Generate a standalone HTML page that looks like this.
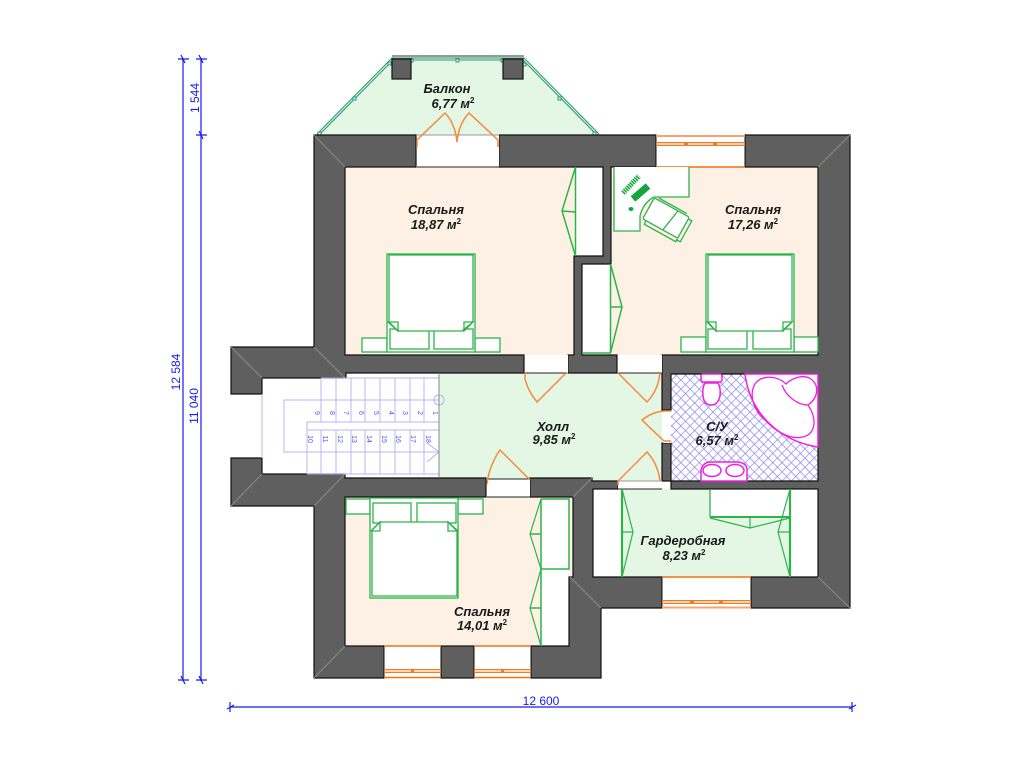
<!DOCTYPE html>
<html>
<head>
<meta charset="utf-8">
<style>
html,body{margin:0;padding:0;background:#fff;width:1024px;height:768px;overflow:hidden}
svg{display:block}
.r{font:italic bold 13px "Liberation Sans",sans-serif;fill:#1a1a1a;text-anchor:middle}
.s{font:bold 8px "Liberation Sans",sans-serif}
.d{font:12px "Liberation Sans",sans-serif;fill:#1a1aee;text-anchor:middle}
.n{font:7px "Liberation Sans",sans-serif;fill:#5555ee;text-anchor:middle}
.g{fill:none;stroke:#2db34a;stroke-width:1.3}
.w{fill:#fff;stroke:#2db34a;stroke-width:1.3}
.o{fill:none;stroke:#f58a3c;stroke-width:1.5}
.m{fill:#fff;stroke:#f01fe0;stroke-width:1.5}
.l{stroke:#b5b5f5;stroke-width:1;fill:none}
.t{stroke:#2a9a78;stroke-width:1.1;fill:none}
</style>
</head>
<body>
<svg width="1024" height="768" viewBox="0 0 1024 768" xmlns="http://www.w3.org/2000/svg">
<defs>
<pattern id="h" width="6.500" height="6.500" patternUnits="userSpaceOnUse" patternTransform="rotate(45 671 373)">
<rect width="6.500" height="6.500" fill="#fff"/>
<path d="M0 0H6.500M0 0V6.500" stroke="#8a8af2" stroke-width="1.400"/>
</pattern>
</defs>

<!-- room floors -->
<polygon points="316,135 392,57 524,57 600,135" fill="#e4f6e4"/>
<rect x="345" y="167" width="230" height="188" fill="#fdf1e5"/>
<rect x="611" y="167" width="207" height="188" fill="#fdf1e5"/>
<rect x="345" y="497" width="228" height="149" fill="#fdf1e5"/>
<rect x="439" y="373" width="223" height="108" fill="#e4f6e4"/>
<rect x="593" y="489" width="225" height="88" fill="#e4f6e4"/>
<rect x="671" y="373" width="147" height="108" fill="url(#h)"/>
<!-- white closet interiors -->
<g fill="#fff">
<rect x="541" y="499" width="28" height="147"/>
<rect x="593" y="489" width="29" height="88"/>
<rect x="790" y="489" width="28" height="88"/>
<rect x="710" y="489" width="80" height="28"/>
</g>

<!-- balcony railing -->
<path d="M392 56H524" stroke="#333" stroke-width="1"/>
<path d="M317 134L392 58H524L599 134" class="t"/>
<path d="M320 134L393 60H523L596 134" class="t"/>
<g fill="#e4f6e4" stroke="#2a9a78" stroke-width="1">
<rect x="318" y="132" width="3" height="3"/><rect x="353" y="97" width="3" height="3"/><rect x="388" y="62" width="3" height="3"/>
<rect x="410" y="59" width="3" height="3"/><rect x="456" y="59" width="3" height="3"/><rect x="501" y="59" width="3" height="3"/>
<rect x="523" y="63" width="3" height="3"/><rect x="558" y="97" width="3" height="3"/><rect x="593" y="132" width="3" height="3"/>
</g>

<!-- walls -->
<g fill="#5f5f5f" stroke="#111" stroke-width="1.200">
<rect x="392" y="59" width="19" height="20"/>
<rect x="503" y="59" width="20" height="20"/>
<path d="M314 135H416V167H345V355H524V373H346V378H262V394H231V347H314Z"/>
<path d="M499 135H656V167H611V264H582V355H617V373H568V355H574V256H603V167H499Z"/>
<path d="M745 135H850V608H751V577H818V489H671V481H818V374H671V410H662V355H818V167H745Z"/>
<path d="M662 443H671V481H662Z"/>
<path d="M231 458H262V474H345V478H486V497H345V646H384V678H314V506H231Z"/>
<path d="M530 478H592V481H618V489H593V577H662V608H601V678H531V646H569V577H573V497H530Z"/>
<rect x="441" y="646" width="33" height="32"/>
</g>
<!-- wall corner highlights -->
<g stroke="#8a8a8a" stroke-width="1" fill="none">
<path d="M314 135L345 167M850 135L818 167M850 608L818 577M314 678L345 646M231 347L262 378M314 347L345 378M231 506L262 474M314 506L345 474M601 608L570 577M592 478L573 497"/>
</g>

<!-- openings -->
<g fill="#fff">
<rect x="656.500" y="136" width="88" height="31"/>
<rect x="662.500" y="577" width="88" height="31"/>
<rect x="384.500" y="646" width="56" height="32"/>
<rect x="474.500" y="646" width="56" height="32"/>
<rect x="417" y="135" width="82" height="32"/>
<rect x="525" y="355" width="43" height="18"/>
<rect x="618" y="355" width="44" height="18"/>
<rect x="487" y="479" width="43" height="18"/>
<rect x="618" y="481" width="44" height="8"/>
<rect x="663" y="411" width="8" height="32"/>
</g>
<g stroke="#222" stroke-width="1" fill="none">
<path d="M525 373H567M618 373H662M487 497H530M618 489H662M487 479H530"/>
<path d="M417 135H499M618 481H662" stroke="#999"/>
<path d="M417 167H499" stroke="#222"/>
</g>
<!-- windows -->
<g fill="#fbd3b5" stroke="#f5791f" stroke-width="1">
<rect x="656.500" y="142.500" width="88" height="3"/>
<rect x="662.500" y="600.500" width="88" height="3"/>
<rect x="384.500" y="669.500" width="56" height="3"/>
<rect x="474.500" y="669.500" width="56" height="3"/>
</g>
<g fill="#f5791f">
<rect x="684" y="142" width="4" height="4"/><rect x="713" y="142" width="4" height="4"/>
<rect x="690" y="600" width="4" height="4"/><rect x="719" y="600" width="4" height="4"/>
<rect x="411" y="669" width="3" height="4"/><rect x="501" y="669" width="3" height="4"/>
</g>
<g fill="none" stroke="#f5700f" stroke-width="1.400">
<path d="M656 167H745M662 577H751M384 646H441M474 646H531M384 677.500H441M474 677.500H531"/>
</g>
<g fill="none" stroke="#fba36a" stroke-width="2">
<path d="M656 136H745M662 607.500H751"/>
</g>

<!-- doors -->
<g class="o">
<path d="M417 147V140L445 113Q455 123 457 142"/>
<path d="M498 147V140L469 113Q459 123 457 142"/>
<path d="M525 373V379Q528 391 537 402L566 373"/>
<path d="M618 373L647 402Q658 391 660 373"/>
<path d="M671 411H664Q652 412 642 420L664 441H671"/>
<path d="M618 485V481L647 452Q658 464 660 481"/>
<path d="M487 484Q489 466 500 450L530 480"/>
</g>

<!-- stairs -->
<g class="l">
<path d="M262 394V458M321 378H439M307 474H439"/>
<rect x="284" y="400" width="155" height="52"/>
<rect x="307" y="422" width="132" height="8"/>
<path d="M321 378V422M336 378V422M351 378V422M365 378V422M380 378V422M395 378V422M410 378V422M424 378V422"/>
<path d="M307 430V474M321 430V474M336 430V474M351 430V474M365 430V474M380 430V474M395 430V474M410 430V474M424 430V474"/>
<path d="M427 443L439 452L427 462"/>
<circle cx="439" cy="400" r="5"/>
</g>
<path d="M439 373V478" stroke="#888"/>
<g class="n">
<text transform="translate(315,413) rotate(90)">9</text>
<text transform="translate(330,413) rotate(90)">8</text>
<text transform="translate(344,413) rotate(90)">7</text>
<text transform="translate(359,413) rotate(90)">6</text>
<text transform="translate(374,413) rotate(90)">5</text>
<text transform="translate(389,413) rotate(90)">4</text>
<text transform="translate(403,413) rotate(90)">3</text>
<text transform="translate(418,413) rotate(90)">2</text>
<text transform="translate(433,413) rotate(90)">1</text>
<text transform="translate(308,439) rotate(90)">10</text>
<text transform="translate(323,439) rotate(90)">11</text>
<text transform="translate(338,439) rotate(90)">12</text>
<text transform="translate(352,439) rotate(90)">13</text>
<text transform="translate(367,439) rotate(90)">14</text>
<text transform="translate(382,439) rotate(90)">15</text>
<text transform="translate(396,439) rotate(90)">16</text>
<text transform="translate(411,439) rotate(90)">17</text>
<text transform="translate(426,439) rotate(90)">18</text>
</g>

<!-- closets -->
<g class="g">
<path d="M575.500 167V256M575.500 167L562 211L575.500 256M562 211L575.500 212" stroke-width="1.500"/>
<path d="M610.500 264V353H582M610.500 264L622 307L610.500 353M610 307H622" stroke-width="1.500"/>
<path d="M541 499H569V569H541M541 499V646M530 534H541M530 608H541" stroke-width="1.500"/>
<path d="M541 499L530 534L541 569L530 608L541 646" stroke-width="1.200"/>
<path d="M622 489V577" stroke-width="2.200"/>
<path d="M622 489L633 532L622 577M621 532H633" stroke-width="1.200"/>
<path d="M790 489V577" stroke-width="2.200"/>
<path d="M790 489L778 532L790 577M778 532H790" stroke-width="1.200"/>
<path d="M710 489V517" stroke-width="1.300"/>
<path d="M710 517H790" stroke-width="2"/>
<path d="M710 518L750 528L790 518M750 516V528" stroke-width="1.200"/>
</g>

<!-- bed 1 -->
<g>
<rect class="w" x="362" y="338" width="25" height="14"/>
<rect class="w" x="475" y="338" width="25" height="14"/>
<rect class="w" x="387" y="254" width="88" height="98" stroke-width="1.800"/>
<rect class="w" x="390" y="329" width="39" height="20"/>
<rect class="w" x="434" y="329" width="39" height="20"/>
<path class="w" d="M389 255H473V322L462 331H398L389 322Z"/>
<path class="g" d="M388 322H398V331ZM473 322H464V331Z"/>
</g>
<!-- bed 2 -->
<g>
<rect class="w" x="681" y="337" width="25" height="15"/>
<rect class="w" x="794" y="337" width="24" height="15"/>
<rect class="w" x="706" y="254" width="88" height="98" stroke-width="1.800"/>
<rect class="w" x="708" y="329" width="39" height="20"/>
<rect class="w" x="753" y="329" width="38" height="20"/>
<path class="w" d="M708 255H792V322L782 331H716L708 322Z"/>
<path class="g" d="M707 322H716V331ZM792 322H783V331Z"/>
</g>
<!-- bed 3 -->
<g>
<rect class="w" x="346" y="499" width="24" height="15"/>
<rect class="w" x="458" y="499" width="25" height="15"/>
<rect class="w" x="370" y="498" width="88" height="100" stroke-width="1.800"/>
<rect class="w" x="373" y="503" width="38" height="20"/>
<rect class="w" x="417" y="503" width="39" height="20"/>
<path class="w" d="M372 530L380 522H448L457 530V596H372Z"/>
<path class="g" d="M371 531H380V522ZM457 531H448V522Z"/>
</g>

<!-- desk and chair -->
<path class="w" d="M614 167V231H640V216Q643 203 654 197H689V167"/>
<g transform="translate(666,218) rotate(29)">
<rect class="w" x="-20" y="-12" width="40" height="24" rx="2"/>
<path class="g" d="M-16 12V16H20V12M7 -12L3 12M-16 -14H16M20 -10H24V14H20"/>
</g>
<path d="M633 199L648 186" stroke="#12a63c" stroke-width="7"/>
<path d="M623 193L639 176" stroke="#12a63c" stroke-width="5" stroke-dasharray="1.500 .8"/>
<ellipse cx="631" cy="209" rx="2.500" ry="2" fill="#12a63c"/>

<!-- bathroom fixtures -->
<path class="m" d="M745 374H818V447C780 441 750 414 745 374Z"/>
<path d="M786 384C778 376 762 374 755 384C748 396 755 412 765 420C775 431 790 440 803 437C815 434 818 420 808 405C818 398 820 386 811 379C803 374 792 378 786 384ZM782 385C786 396 797 405 808 405" fill="none" stroke="#f01fe0" stroke-width="1.300"/>
<rect class="m" x="701" y="374" width="21" height="8" rx="2"/>
<path class="m" d="M705 383H718Q721 388 720 396Q718 405 711 405Q704 405 703 396Q702 388 705 383Z"/>
<path class="m" d="M701 481V470Q703 462 711 462H738Q747 463 747 470V481Z"/>
<ellipse class="m" cx="712" cy="470.500" rx="9" ry="6"/>
<ellipse class="m" cx="735" cy="470.500" rx="9" ry="6"/>

<!-- room labels -->
<text class="r" x="447" y="93">Балкон</text>
<text class="r" x="453" y="108">6,77 м<tspan class="s" dy="-5">2</tspan></text>
<text class="r" x="436" y="214">Спальня</text>
<text class="r" x="436" y="229">18,87 м<tspan class="s" dy="-5">2</tspan></text>
<text class="r" x="753" y="214">Спальня</text>
<text class="r" x="753" y="229">17,26 м<tspan class="s" dy="-5">2</tspan></text>
<text class="r" x="553" y="431">Холл</text>
<text class="r" x="554" y="444">9,85 м<tspan class="s" dy="-5">2</tspan></text>
<text class="r" x="717" y="431">С/У</text>
<text class="r" x="717" y="445">6,57 м<tspan class="s" dy="-5">2</tspan></text>
<text class="r" x="683" y="545">Гардеробная</text>
<text class="r" x="684" y="560">8,23 м<tspan class="s" dy="-5">2</tspan></text>
<text class="r" x="482" y="616">Спальня</text>
<text class="r" x="482" y="630">14,01 м<tspan class="s" dy="-5">2</tspan></text>

<!-- dimensions -->
<g stroke="#1a1aee" stroke-width="1.200" fill="none">
<path d="M183 58V681M201 58V681M230 707H852"/>
<path d="M178 59H189M196 59H207M196 135H207M178 680H189M196 680H207"/>
<path d="M181 55L185 63M199 55L203 63M199 131L203 139M181 676L185 684M199 676L203 684"/>
<path d="M230 702V712M852 702V712M227 709L234 705M849 709L856 705"/>
</g>
<text class="d" transform="translate(199,98) rotate(-90)">1 544</text>
<text class="d" transform="translate(180,372) rotate(-90)">12 584</text>
<text class="d" transform="translate(198,406) rotate(-90)">11 040</text>
<text class="d" x="541" y="705">12 600</text>
</svg>
</body>
</html>
